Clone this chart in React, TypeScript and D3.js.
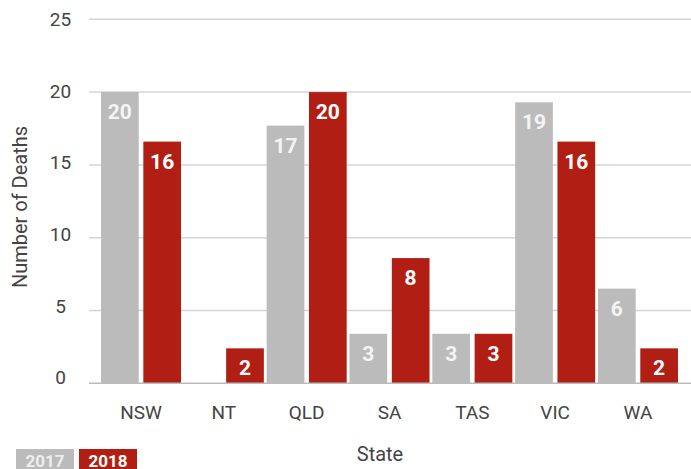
import * as d3 from "d3";
import React, { useRef, useEffect } from "react";

const states = ["NSW", "NT", "QLD", "SA", "TAS", "VIC", "WA"];
const years = ["2017", "2018"];
const values2017 = [20, 0, 17.7, 3.4, 3.4, 19.3, 6.5];
const values2018 = [16.6, 2.4, 20, 8.6, 3.4, 16.6, 2.4];
const labels2017 = ["20", "", "17", "3", "3", "19", "6"];
const labels2018 = ["16", "2", "20", "8", "3", "16", "2"];
const yTicks = [0, 5, 10, 15, 20, 25];
const colors = ["#bbbbbb", "#b11f14"];

const FONT = "Roboto, 'Liberation Sans', sans-serif";

export default function App() {
  const svgRef = useRef<SVGSVGElement | null>(null);

  useEffect(() => {
    const width = 691;
    const height = 469;
    const svg = d3.select(svgRef.current).attr("width", width).attr("height", height);
    svg.selectAll("*").remove();

    const y = d3.scaleLinear().domain([0, 25]).range([383.3, 19.3]);
    // tick labels sit on a slightly tighter spacing than the gridlines
    const yLabel = d3.scaleLinear().domain([0, 25]).range([377.5, 19.7]);
    const x0 = d3.scaleBand().domain(states).range([99.6, 679.4]);
    const x1 = d3.scaleBand().domain(years).range([0, x0.bandwidth()]).paddingInner(0.109).paddingOuter(0.033);

    const rows = states.map((s, i) => ({
      state: s,
      bars: [
        { year: "2017", value: values2017[i], label: labels2017[i] },
        { year: "2018", value: values2018[i], label: labels2018[i] },
      ],
    }));

    // gridlines
    svg.append("g")
      .selectAll("line")
      .data(yTicks.filter(t => t > 0))
      .join("line")
      .attr("x1", 89).attr("x2", width)
      .attr("y1", d => y(d)).attr("y2", d => y(d))
      .attr("stroke", "#d4d4d4").attr("stroke-width", 1.5);

    // y tick labels
    svg.append("g")
      .selectAll("text")
      .data(yTicks)
      .join("text")
      .attr("x", 60.5)
      .attr("y", d => yLabel(d))
      .attr("dy", "0.35em")
      .attr("text-anchor", "middle")
      .attr("font-family", FONT)
      .attr("font-size", 19)
      .attr("fill", "#444")
      .text(d => d);

    const groups = svg.append("g")
      .selectAll("g")
      .data(rows)
      .join("g")
      .attr("transform", d => `translate(${x0(d.state)},0)`);

    groups.selectAll("rect")
      .data(d => d.bars.filter(b => b.value > 0))
      .join("rect")
      .attr("x", d => x1(d.year)!)
      .attr("width", x1.bandwidth())
      .attr("y", d => y(d.value))
      .attr("height", d => y(0) - y(d.value))
      .attr("fill", d => colors[years.indexOf(d.year)]);

    groups.selectAll("text")
      .data(d => d.bars.filter(b => b.label !== ""))
      .join("text")
      .attr("x", d => x1(d.year)! + x1.bandwidth() / 2)
      .attr("y", d => y(d.value) + 27)
      .attr("text-anchor", "middle")
      .attr("font-family", FONT)
      .attr("font-weight", "bold")
      .attr("font-size", 21)
      .attr("fill", d => (d.year === "2017" ? "#f4f4f4" : "#ffffff"))
      .text(d => d.label);

    // baseline
    svg.append("line")
      .attr("x1", 89).attr("x2", width)
      .attr("y1", y(0)).attr("y2", y(0))
      .attr("stroke", "#bbbbbb").attr("stroke-width", 1.5);

    // x labels
    svg.append("g")
      .selectAll("text")
      .data(states)
      .join("text")
      .attr("x", d => x0(d)! + x0.bandwidth() / 2)
      .attr("y", 419)
      .attr("text-anchor", "middle")
      .attr("font-family", FONT)
      .attr("font-size", 19)
      .attr("fill", "#444")
      .text(d => d);

    // axis titles
    svg.append("text")
      .attr("x", 380).attr("y", 461)
      .attr("text-anchor", "middle")
      .attr("font-family", FONT)
      .attr("font-size", 20)
      .attr("fill", "#444")
      .text("State");

    svg.append("text")
      .attr("transform", "translate(27,207) rotate(-90)")
      .attr("text-anchor", "middle")
      .attr("font-family", FONT)
      .attr("font-size", 20)
      .attr("fill", "#444")
      .text("Number of Deaths");

    // legend
    const legend = svg.append("g")
      .selectAll("g")
      .data(years)
      .join("g")
      .attr("transform", (d, i) => `translate(${16 + i * 63},449)`);
    legend.append("rect")
      .attr("width", 58).attr("height", 20)
      .attr("fill", (d, i) => colors[i]);
    legend.append("text")
      .attr("x", 29).attr("y", 17.5)
      .attr("text-anchor", "middle")
      .attr("font-family", FONT)
      .attr("font-weight", "bold")
      .attr("font-size", 17)
      .attr("fill", (d, i) => (i === 0 ? "#eeeeee" : "#ffffff"))
      .text(d => d);
  }, []);

  return <svg ref={svgRef} style={{ position: "absolute", left: 0, top: 0, display: "block" }} />;
}
